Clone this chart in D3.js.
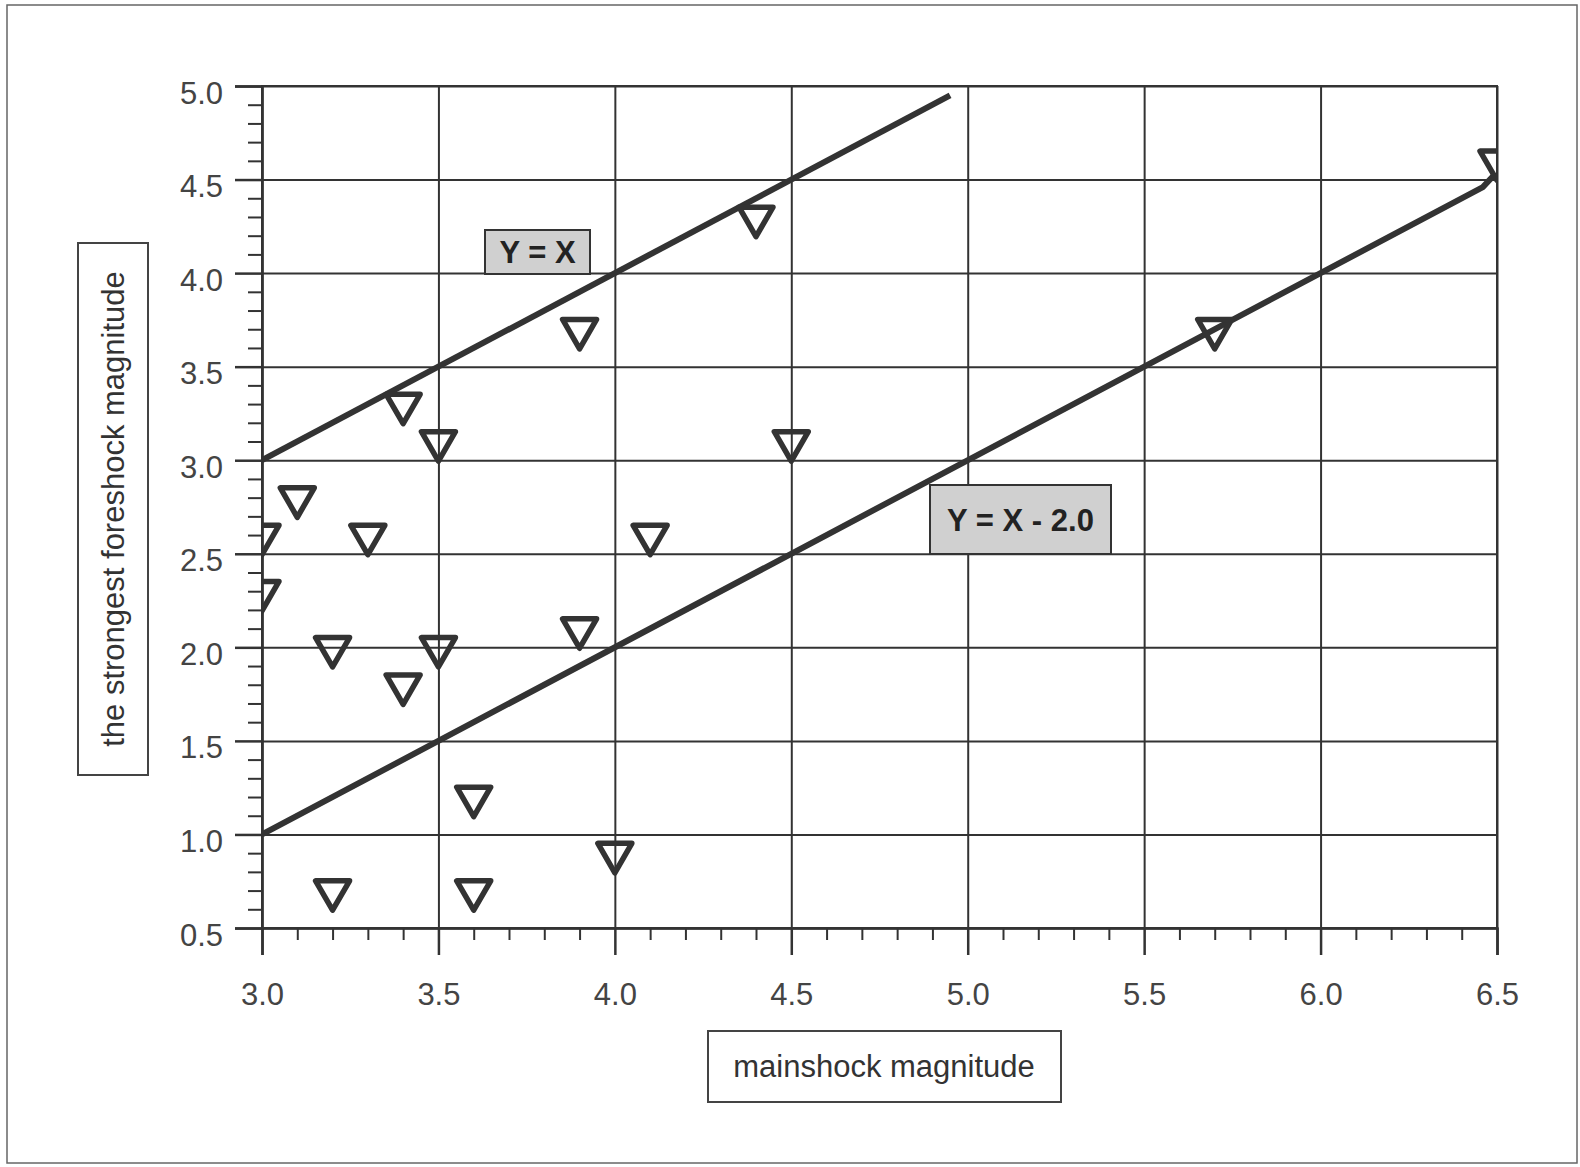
<!DOCTYPE html>
<html>
<head>
<meta charset="utf-8">
<script src="https://cdn.jsdelivr.net/npm/d3@7"></script>
<style>
  body { margin: 0; background: #fff; }
  svg { display: block; }
</style>
</head>
<body>
<div id="chart"></div>
<script>
// mainshock vs strongest foreshock magnitude
const mainshock = [3.0, 3.0, 3.1, 3.2, 3.2, 3.3, 3.4, 3.4, 3.5, 3.5, 3.6, 3.6, 3.9, 3.9, 4.0, 4.1, 4.4, 4.5, 5.7, 6.5];
const foreshock = [2.6, 2.3, 2.8, 2.0, 0.7, 2.6, 3.3, 1.8, 3.1, 2.0, 1.2, 0.7, 3.7, 2.1, 0.9, 2.6, 4.3, 3.1, 3.7, 4.6];

// reference lines
const lineYX_x = [3.0, 4.95];
const lineYX_y = [3.0, 4.95];
const lineYX2_x = [3.0, 6.46, 6.49];
const lineYX2_y = [1.0, 4.46, 4.52];

const xTicks = [3.0, 3.5, 4.0, 4.5, 5.0, 5.5, 6.0, 6.5];
const yTicks = [0.5, 1.0, 1.5, 2.0, 2.5, 3.0, 3.5, 4.0, 4.5, 5.0];

const width = 1580, height = 1167;
const plot = { left: 262, right: 1497, top: 86, bottom: 928 };
const ink = "#333";

const svg = d3.select("#chart").append("svg")
    .attr("width", width)
    .attr("height", height)
    .style("font-family", "'Liberation Sans', Arial, sans-serif");

// outer frame
svg.append("rect")
    .attr("x", 7).attr("y", 5)
    .attr("width", 1570).attr("height", 1158)
    .attr("fill", "none")
    .attr("stroke", "#666")
    .attr("stroke-width", 1.5);

const x = d3.scaleLinear().domain([3.0, 6.5]).range([plot.left, plot.right]);
const y = d3.scaleLinear().domain([0.5, 5.0]).range([plot.bottom, plot.top]);

const minorX = d3.range(30, 66).map(d => d / 10).filter(d => Math.round(d * 10) % 5 !== 0);
const minorY = d3.range(5, 51).map(d => d / 10).filter(d => Math.round(d * 10) % 5 !== 0);

// gridlines
svg.append("g")
    .attr("transform", `translate(0,${plot.bottom})`)
    .call(d3.axisBottom(x).tickValues(xTicks).tickSize(-(plot.bottom - plot.top)).tickFormat(""))
    .call(g => g.select(".domain").remove())
    .selectAll("line").attr("stroke", ink).attr("stroke-width", 2);

svg.append("g")
    .attr("transform", `translate(${plot.left},0)`)
    .call(d3.axisLeft(y).tickValues(yTicks).tickSize(-(plot.right - plot.left)).tickFormat(""))
    .call(g => g.select(".domain").remove())
    .selectAll("line").attr("stroke", ink).attr("stroke-width", 2);

// minor ticks
svg.append("g")
    .attr("transform", `translate(0,${plot.bottom})`)
    .call(d3.axisBottom(x).tickValues(minorX).tickSize(12).tickFormat(""))
    .call(g => g.select(".domain").remove())
    .selectAll("line").attr("stroke", ink).attr("stroke-width", 2);

svg.append("g")
    .attr("transform", `translate(${plot.left},0)`)
    .call(d3.axisLeft(y).tickValues(minorY).tickSize(14).tickFormat(""))
    .call(g => g.select(".domain").remove())
    .selectAll("line").attr("stroke", ink).attr("stroke-width", 2);

// major axes with labels
const xAxis = svg.append("g")
    .attr("transform", `translate(0,${plot.bottom})`)
    .call(d3.axisBottom(x).tickValues(xTicks).tickSize(27).tickPadding(28).tickFormat(d3.format(".1f")));
xAxis.select(".domain").attr("stroke", ink).attr("stroke-width", 2.5);
xAxis.selectAll("line").attr("stroke", ink).attr("stroke-width", 2.5);
xAxis.selectAll("text").attr("fill", "#444").style("font-size", "31px");

const yAxis = svg.append("g")
    .attr("transform", `translate(${plot.left},0)`)
    .call(d3.axisLeft(y).tickValues(yTicks).tickSize(27).tickPadding(12).tickFormat(d3.format(".1f")));
yAxis.select(".domain").attr("stroke", ink).attr("stroke-width", 2.5);
yAxis.selectAll("line").attr("stroke", ink).attr("stroke-width", 2.5);
yAxis.selectAll("text").attr("fill", "#444").attr("dy", "0.55em").style("font-size", "31px");

// plot frame top/right
svg.append("rect")
    .attr("x", plot.left).attr("y", plot.top)
    .attr("width", plot.right - plot.left).attr("height", plot.bottom - plot.top)
    .attr("fill", "none").attr("stroke", ink).attr("stroke-width", 2);

// clip
svg.append("defs").append("clipPath").attr("id", "plot-clip")
    .append("rect")
    .attr("x", plot.left).attr("y", plot.top - 2)
    .attr("width", plot.right - plot.left).attr("height", plot.bottom - plot.top + 2);

const inner = svg.append("g").attr("clip-path", "url(#plot-clip)");

const line = d3.line().x(d => x(d[0])).y(d => y(d[1]));

inner.append("path")
    .datum(d3.zip(lineYX_x, lineYX_y))
    .attr("d", line)
    .attr("fill", "none").attr("stroke", ink).attr("stroke-width", 6);

inner.append("path")
    .datum(d3.zip(lineYX2_x, lineYX2_y))
    .attr("d", line)
    .attr("fill", "none").attr("stroke", ink).attr("stroke-width", 6);

// markers: downward open triangles
const tri = d3.symbol(d3.symbolTriangle).size(500);
inner.selectAll(".pt")
    .data(d3.zip(mainshock, foreshock))
    .enter()
    .append("path")
    .attr("class", "pt")
    .attr("d", tri)
    .attr("transform", d => `translate(${x(d[0])},${y(d[1])}) rotate(180)`)
    .attr("fill", "none")
    .attr("stroke", ink)
    .attr("stroke-width", 5.5)
    .attr("stroke-linejoin", "round");

// line labels
function lineLabel(x0, y0, w, h, label) {
    svg.append("rect")
        .attr("x", x0).attr("y", y0).attr("width", w).attr("height", h)
        .attr("fill", "#d0d0d0").attr("stroke", ink).attr("stroke-width", 2);
    svg.append("text")
        .attr("x", x0 + w / 2).attr("y", y0 + h / 2 + 11)
        .attr("text-anchor", "middle")
        .style("font-size", "31px").style("font-weight", "bold")
        .attr("fill", "#222")
        .text(label);
}
lineLabel(485, 230, 105, 44, "Y = X");
lineLabel(930, 485, 181, 69, "Y = X - 2.0");

// axis titles in boxes
svg.append("rect")
    .attr("x", 78).attr("y", 243).attr("width", 70).attr("height", 532)
    .attr("fill", "#fff").attr("stroke", "#444").attr("stroke-width", 2);
svg.append("text")
    .attr("transform", `translate(${78 + 35 + 11},${243 + 266}) rotate(-90)`)
    .attr("text-anchor", "middle")
    .style("font-size", "31px").attr("fill", "#333")
    .text("the strongest foreshock magnitude");

svg.append("rect")
    .attr("x", 708).attr("y", 1031).attr("width", 353).attr("height", 71)
    .attr("fill", "#fff").attr("stroke", "#444").attr("stroke-width", 2);
svg.append("text")
    .attr("x", 708 + 176).attr("y", 1031 + 46)
    .attr("text-anchor", "middle")
    .style("font-size", "31px").attr("fill", "#333")
    .text("mainshock magnitude");
</script>
</body>
</html>
